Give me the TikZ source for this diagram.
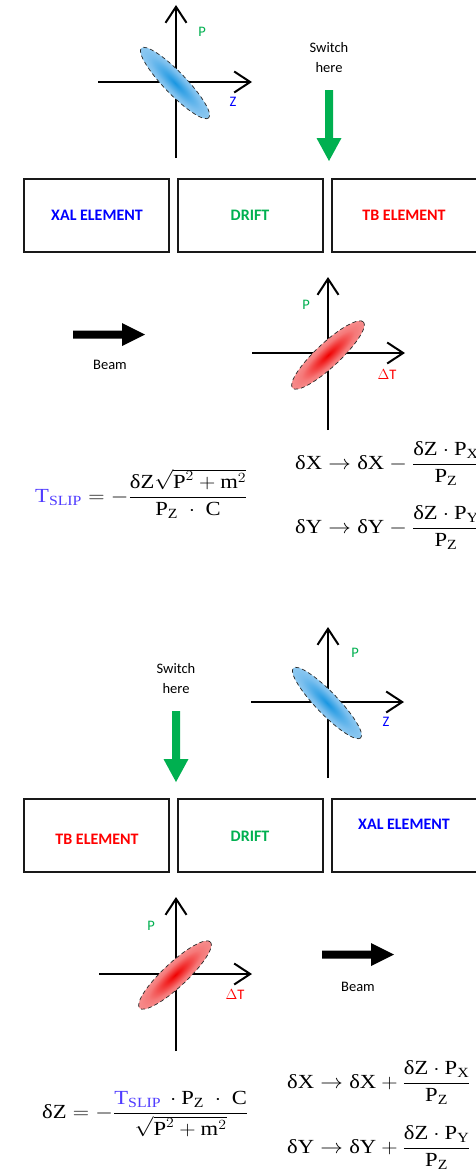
\RequirePackage{fix-cm}
\documentclass[tikz,border=0pt]{standalone}
\usepackage{amsmath}
\usepackage{graphicx}
\usepackage{fontspec}
\setmainfont{Carlito}
\newfontfamily\eqf{Liberation Serif}
\usetikzlibrary{arrows.meta}
\definecolor{gP}{RGB}{0,176,80}
\definecolor{bZ}{RGB}{0,0,255}
\definecolor{rT}{RGB}{255,0,0}
\definecolor{slipc}{RGB}{80,60,255}
\definecolor{bc}{RGB}{25,150,225}
\definecolor{bm}{RGB}{120,190,238}
\definecolor{bo}{RGB}{218,238,250}
\definecolor{rc}{RGB}{240,0,0}
\definecolor{rm}{RGB}{245,120,120}
\definecolor{ro}{RGB}{250,212,212}
\pgfdeclareradialshading{blueell}{\pgfpoint{0bp}{0bp}}{color(0bp)=(bc); color(18bp)=(bm); color(50bp)=(bo)}
\pgfdeclareradialshading{redell}{\pgfpoint{0bp}{0bp}}{color(0bp)=(rc); color(18bp)=(rm); color(50bp)=(ro)}
\newcommand\tx[1]{\text{#1}}
\newcommand\tsl{\textcolor{slipc}{\text{T}_{\text{SLIP}}}}
\newcommand\eqbox[1]{\scalebox{1.13}[1]{$#1$}}
\begin{document}
\begin{tikzpicture}[x=1pt,y=-1pt,
  axis/.style={line width=2pt,-{Straight Barb[length=16pt,width=21pt]}},
  lab/.style={font=\fontsize{14.5}{17}\selectfont, inner sep=0pt},
  swlab/.style={font=\fontsize{14.5}{20}\selectfont, inner sep=0pt, align=center},
  boxlab/.style={font=\bfseries\fontsize{16}{19}\selectfont, inner sep=0pt},
  elem/.style={draw=black!90, line width=2pt, minimum width=145pt, minimum height=73pt, inner sep=0pt},
  eq/.style={font=\eqf\fontsize{20}{24}\selectfont, inner sep=0pt, anchor=base west},
  ell/.style={draw=black!85, line width=0.7pt, dash pattern=on 4pt off 3pt},
  downarrow/.pic={\fill[gP] (-4,0) -- (4,0) -- (4,48) -- (12.5,48) -- (0,71) -- (-12.5,48) -- (-4,48) -- cycle;},
  beamarrow/.pic={\fill[black] (0,-4) -- (49,-4) -- (49,-11.5) -- (72,0) -- (49,11.5) -- (49,4) -- (0,4) -- cycle;}
  ]
\useasboundingbox (0,0) rectangle (475,1172);
\fill[white] (0,0) rectangle (475,1172);

% ---------- top phase space (Z,P) ----------
\draw[axis] (98,82) -- (252,82);
\draw[axis] (176,158) -- (176,5);
\begin{scope}[transform canvas={shift={(175,83)},rotate=-46}]
  \shade[shading=blueell] (0,0) ellipse (48.5 and 11);
  \draw[ell] (0,0) ellipse (48.5 and 11);
\end{scope}
\node[lab,text=gP] (p1) at (202,32) {P};
\node[lab,text=bZ] (z1) at (233,102) {Z};

\node[swlab] (sw1) at (329,58) {Switch\\here};
\pic at (329,90) {downarrow};

% ---------- top elements ----------
\node[elem] (b1) at (96.5,215.5) {};
\node[elem] (b2) at (250.5,215.5) {};
\node[elem,minimum width=149pt] (b3) at (406.5,215.5) {};
\node[boxlab,text=bZ] (l1) at (97,215) {XAL ELEMENT};
\node[boxlab,text=gP] (l2) at (250,215) {DRIFT};
\node[boxlab,text=rT] (l3) at (404,215) {TB ELEMENT};

% ---------- beam + (dT,P) ----------
\pic at (73,334.5) {beamarrow};
\node[lab] (beam1) at (110,365) {Beam};

\draw[axis] (252,353) -- (405,353);
\draw[axis] (328,430) -- (328,277);
\begin{scope}[transform canvas={shift={(328,355)},rotate=43}]
  \shade[shading=redell] (0,0) ellipse (48.5 and 12);
  \draw[ell] (0,0) ellipse (48.5 and 12);
\end{scope}
\node[lab,text=gP] (p2) at (306,305) {P};
\node[lab,text=rT] (t2) at (387,375) {$\Delta$T};

% ---------- top equations ----------
\node[eq] (tslipeq) at (35,502) {\eqbox{\tsl = -\dfrac{\tx{δZ}\sqrt{\tx{P}^2+\tx{m}^2}}{\tx{P}_{\tx{Z}}\ \cdot\ \tx{C}}}};
\node[eq] (dx1) at (295,469) {\eqbox{\tx{δX}\to\tx{δX}-\dfrac{\tx{δZ}\cdot\tx{P}_{\tx{X}}}{\tx{P}_{\tx{Z}}}}};
\node[eq] (dy1) at (295,533) {\eqbox{\tx{δY}\to\tx{δY}-\dfrac{\tx{δZ}\cdot\tx{P}_{\tx{Y}}}{\tx{P}_{\tx{Z}}}}};

% ---------- bottom: switch + (Z,P) ----------
\node[swlab] (sw2) at (176,679) {Switch\\here};
\pic at (176,711) {downarrow};

\draw[axis] (251,702) -- (404,702);
\draw[axis] (328,778) -- (328,627);
\begin{scope}[transform canvas={shift={(327,703)},rotate=-46}]
  \shade[shading=blueell] (0,0) ellipse (48.5 and 11);
  \draw[ell] (0,0) ellipse (48.5 and 11);
\end{scope}
\node[lab,text=gP] (p3) at (355,653) {P};
\node[lab,text=bZ] (z3) at (386,722) {Z};

% ---------- bottom elements ----------
\node[elem] (b4) at (96.5,835.5) {};
\node[elem] (b5) at (250.5,835.5) {};
\node[elem,minimum width=149pt] (b6) at (406.5,835.5) {};
\node[boxlab,text=rT] (l4) at (97,839) {TB ELEMENT};
\node[boxlab,text=gP] (l5) at (250,836) {DRIFT};
\node[boxlab,text=bZ] (l6) at (404,824) {XAL ELEMENT};

% ---------- bottom (dT,P) + beam ----------
\draw[axis] (99,974) -- (252,974);
\draw[axis] (176,1051) -- (176,897);
\begin{scope}[transform canvas={shift={(175,975)},rotate=43}]
  \shade[shading=redell] (0,0) ellipse (48.5 and 12);
  \draw[ell] (0,0) ellipse (48.5 and 12);
\end{scope}
\node[lab,text=gP] (p4) at (151,926) {P};
\node[lab,text=rT] (t4) at (235,995) {$\Delta$T};

\pic at (322,954.5) {beamarrow};
\node[lab] (beam2) at (358,987) {Beam};

% ---------- bottom equations ----------
\node[eq] (dzeq) at (42,1118) {\eqbox{\tx{δZ} = -\dfrac{\tsl\,\cdot\tx{P}_{\tx{Z}}\ \cdot\ \tx{C}}{\sqrt{\tx{P}^2+\tx{m}^2}}}};
\node[eq] (dx2) at (287,1088) {\eqbox{\tx{δX}\to\tx{δX}+\dfrac{\tx{δZ}\cdot\tx{P}_{\tx{X}}}{\tx{P}_{\tx{Z}}}}};
\node[eq] (dy2) at (287,1153) {\eqbox{\tx{δY}\to\tx{δY}+\dfrac{\tx{δZ}\cdot\tx{P}_{\tx{Y}}}{\tx{P}_{\tx{Z}}}}};
\end{tikzpicture}
\end{document}
